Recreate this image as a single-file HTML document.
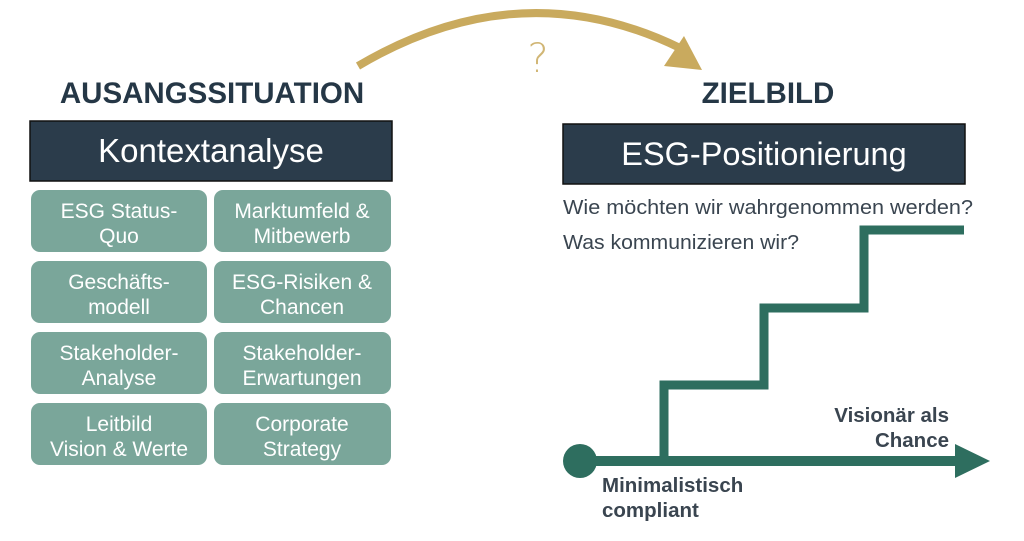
<!DOCTYPE html>
<html><head><meta charset="utf-8"><style>
body{margin:0;width:1024px;height:536px;background:#fff;overflow:hidden;font-family:"Liberation Sans","DejaVu Sans",sans-serif}
</style></head><body>
<svg width="1024" height="536" viewBox="0 0 1024 536" xmlns="http://www.w3.org/2000/svg" font-family="'Liberation Sans', 'DejaVu Sans', sans-serif">
<path d="M358 66 Q520 -30 680 48" fill="none" stroke="#c9aa5e" stroke-width="8"/>
<polygon points="702,70 664,66 684,36" fill="#c9aa5e"/>
<text x="538" y="72" font-size="40" fill="#c9aa5e" text-anchor="middle" style="font-family:'DejaVu Sans Light','Liberation Sans',sans-serif" opacity="0.85">?</text>

<text x="212" y="103" font-size="29.5" font-weight="bold" fill="#253746" text-anchor="middle">AUSANGSSITUATION</text>
<rect x="30" y="121" width="362" height="60" fill="#2b3c4b" stroke="#111" stroke-width="1.5"/>
<text x="211" y="162" font-size="33" fill="#fff" text-anchor="middle">Kontextanalyse</text>

<g fill="#7aa69a">
<rect x="31" y="190" width="176" height="62" rx="9"/><rect x="214" y="190" width="177" height="62" rx="9"/>
<rect x="31" y="261" width="176" height="62" rx="9"/><rect x="214" y="261" width="177" height="62" rx="9"/>
<rect x="31" y="332" width="176" height="62" rx="9"/><rect x="214" y="332" width="177" height="62" rx="9"/>
<rect x="31" y="403" width="176" height="62" rx="9"/><rect x="214" y="403" width="177" height="62" rx="9"/>
</g>
<g fill="#fff" font-size="21" text-anchor="middle">
<text x="119" y="218">ESG Status-</text><text x="119" y="243">Quo</text>
<text x="302" y="218">Marktumfeld &amp;</text><text x="302" y="243">Mitbewerb</text>
<text x="119" y="289">Geschäfts-</text><text x="119" y="314">modell</text>
<text x="302" y="289">ESG-Risiken &amp;</text><text x="302" y="314">Chancen</text>
<text x="119" y="360">Stakeholder-</text><text x="119" y="385">Analyse</text>
<text x="302" y="360">Stakeholder-</text><text x="302" y="385">Erwartungen</text>
<text x="119" y="431">Leitbild</text><text x="119" y="456">Vision &amp; Werte</text>
<text x="302" y="431">Corporate</text><text x="302" y="456">Strategy</text>
</g>

<text x="768" y="103" font-size="29.5" font-weight="bold" fill="#253746" text-anchor="middle">ZIELBILD</text>
<rect x="563" y="124" width="402" height="60" fill="#2b3c4b" stroke="#111" stroke-width="1.5"/>
<text x="764" y="165" font-size="32.5" fill="#fff" text-anchor="middle">ESG-Positionierung</text>
<text x="563" y="214" font-size="20.5" fill="#3a4550" textLength="410" lengthAdjust="spacingAndGlyphs">Wie möchten wir wahrgenommen werden?</text>
<text x="563" y="249" font-size="20.5" fill="#3a4550" textLength="236" lengthAdjust="spacingAndGlyphs">Was kommunizieren wir?</text>

<polyline points="664,461 664,385 764,385 764,308 864,308 864,230 964,230" fill="none" stroke="#2e6e5f" stroke-width="9"/>
<line x1="580" y1="461" x2="958" y2="461" stroke="#2e6e5f" stroke-width="10"/>
<polygon points="955,444 990,461 955,478" fill="#2e6e5f"/>
<circle cx="580" cy="461" r="17" fill="#2e6e5f"/>
<text x="949" y="422" font-size="20.5" font-weight="bold" fill="#3a4550" text-anchor="end">Visionär als</text>
<text x="949" y="447" font-size="20.5" font-weight="bold" fill="#3a4550" text-anchor="end">Chance</text>
<text x="602" y="492" font-size="20.5" font-weight="bold" fill="#3a4550">Minimalistisch</text>
<text x="602" y="517" font-size="20.5" font-weight="bold" fill="#3a4550">compliant</text>
</svg>
</body></html>
